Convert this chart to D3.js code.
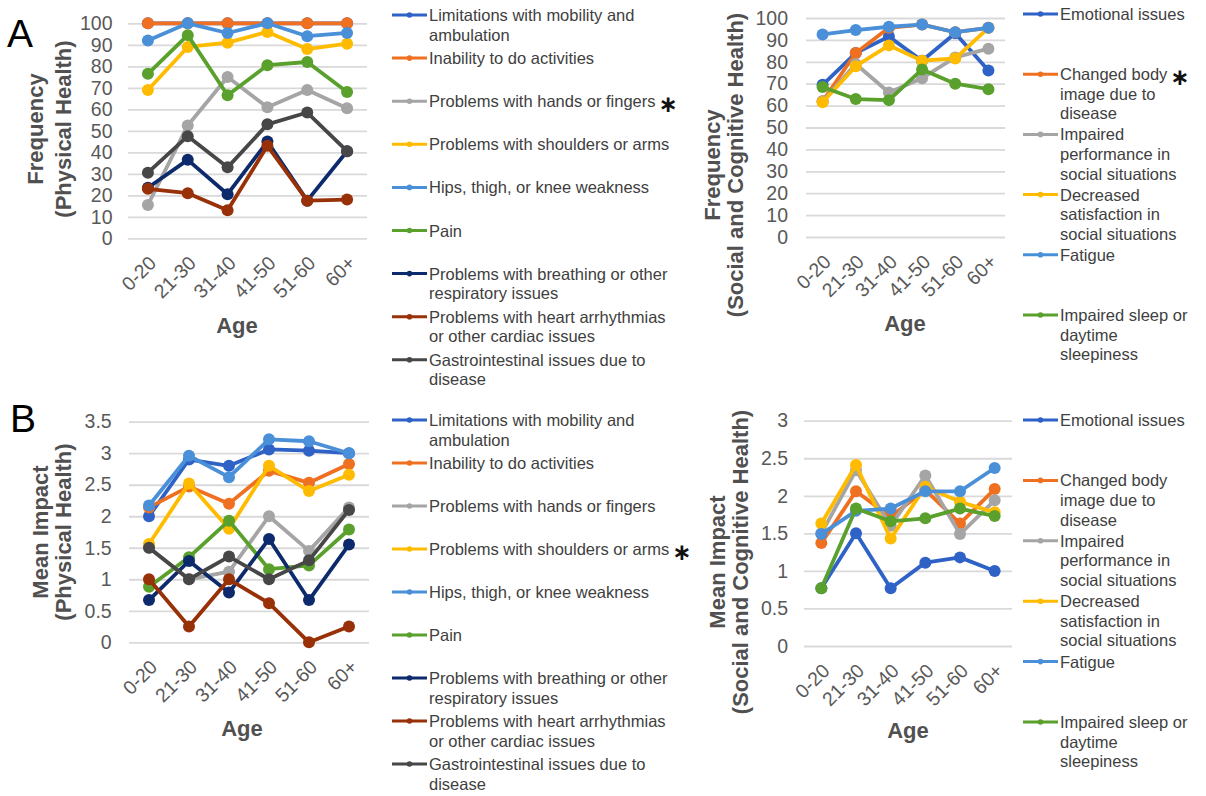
<!DOCTYPE html>
<html>
<head>
<meta charset="utf-8">
<script src="https://d3js.org/d3.v7.min.js"></script>
<style>
	body { margin: 0; background: #fff; }
	svg { display: block; font-family: 'Liberation Sans', Arial, sans-serif; }
</style>
</head>
<body>
<div id="chart"></div>
<script>
// Age groups on every x axis
const ages = ['0-20', '21-30', '31-40', '41-50', '51-60', '60+'];

// Physical health items (legend text, one entry per line)
const physicalLabels = [
	['Limitations with mobility and', 'ambulation'],
	['Inability to do activities'],
	['Problems with hands or fingers'],
	['Problems with shoulders or arms'],
	['Hips, thigh, or knee weakness'],
	['Pain'],
	['Problems with breathing or other', 'respiratory issues'],
	['Problems with heart arrhythmias', 'or other cardiac issues'],
	['Gastrointestinal issues due to', 'disease']
];
const physicalColors = ['#2f62c6', '#f07021', '#a5a5a5', '#ffbb00', '#4a90d9', '#5aa02c', '#0d2a6c', '#983008', '#474747'];

// Social and cognitive health items
const socialLabels = [
	['Emotional issues'],
	['Changed body', 'image due to', 'disease'],
	['Impaired', 'performance in', 'social situations'],
	['Decreased', 'satisfaction in', 'social situations'],
	['Fatigue'],
	['Impaired sleep or', 'daytime', 'sleepiness']
];
const socialColors = ['#2f62c6', '#f07021', '#a5a5a5', '#ffbb00', '#4a90d9', '#5aa02c'];

// A: frequency (physical), one row per item
const freqPhysical = [
	[100, 100, 100, 100, 100, 100],
	[100, 100, 100, 100, 100, 100],
	[15.5, 52.5, 75, 61, 69, 60.5],
	[69, 89, 91, 96, 88, 90.5],
	[92, 100, 95.5, 100, 94, 95.5],
	[76.5, 94.5, 66.5, 80.5, 82, 68],
	[23.5, 36.5, 20.5, 45, 17.5, 40.5],
	[23, 21, 13, 43, 17.5, 18],
	[30.5, 47.5, 33, 53, 58.5, 40.5]
];

// A: frequency (social and cognitive)
const freqSocial = [
	[69.5, 84, 91.5, 80.5, 93, 76],
	[62, 84, 95.5, 97, 93.5, 95.5],
	[62, 79, 66, 72.5, 82, 86],
	[61.5, 78, 87.5, 80.5, 81.5, 95.5],
	[92.5, 94.5, 96, 97, 93.5, 95.5],
	[68.5, 63, 62.5, 76.5, 70, 67.5]
];

// B: mean impact (physical)
const impactPhysical = [
	[2.0, 2.9, 2.8, 3.06, 3.04, 3.0],
	[2.14, 2.47, 2.2, 2.72, 2.53, 2.83],
	[1.5, 1.0, 1.12, 2.0, 1.45, 2.14],
	[1.56, 2.52, 1.8, 2.8, 2.4, 2.66],
	[2.17, 2.96, 2.62, 3.22, 3.19, 3.0],
	[0.88, 1.35, 1.93, 1.16, 1.22, 1.79],
	[0.67, 1.29, 0.79, 1.64, 0.67, 1.55],
	[1.0, 0.25, 1.0, 0.62, 0, 0.25],
	[1.5, 1.0, 1.36, 1.0, 1.3, 2.1]
];

// B: mean impact (social and cognitive)
const impactSocial = [
	[0.77, 1.5, 0.77, 1.11, 1.18, 1.0],
	[1.37, 2.06, 1.72, 2.08, 1.63, 2.09],
	[1.5, 2.34, 1.6, 2.27, 1.49, 1.94],
	[1.63, 2.41, 1.43, 2.12, 1.92, 1.78],
	[1.49, 1.8, 1.83, 2.06, 2.06, 2.37],
	[0.77, 1.83, 1.66, 1.7, 1.83, 1.73]
];

const freqTicks = [0, 10, 20, 30, 40, 50, 60, 70, 80, 90, 100];
const impactPhysicalTicks = [0, 0.5, 1, 1.5, 2, 2.5, 3, 3.5];
const impactSocialTicks = [0, 0.5, 1, 1.5, 2, 2.5, 3];

const svg = d3.select('#chart').append('svg')
	.attr('width', 1206)
	.attr('height', 796);

svg.append('rect').attr('width', 1206).attr('height', 796).attr('fill', '#fff');

const drawPanel = function(p) {
	const x = d3.scalePoint().domain(ages).range([p.x0, p.x1]).padding(0.5);
	const y = d3.scaleLinear().domain([0, d3.max(p.ticks)]).range([p.yBottom, p.yTop]);
	const g = svg.append('g');

	// Gridlines and y tick labels
	const yAxis = d3.axisLeft(y).tickValues(p.ticks).tickSize(-(p.x1 - p.x0)).tickFormat(d3.format('~g'));
	const ya = g.append('g').attr('transform', 'translate(' + p.x0 + ',0)').call(yAxis);
	ya.select('.domain').remove();
	ya.selectAll('line').attr('stroke', '#d9d9d9').attr('stroke-width', 1.8);
	ya.selectAll('text')
		.attr('x', p.tickRight - p.x0)
		.attr('fill', '#595959')
		.style('font-size', '19.5px');

	// Rotated x tick labels
	const xa = g.append('g').attr('transform', 'translate(0,' + p.yBottom + ')')
		.call(d3.axisBottom(x).tickSize(0));
	xa.select('.domain').remove();
	xa.selectAll('text')
		.attr('fill', '#595959')
		.style('font-size', '19.5px')
		.attr('text-anchor', 'end')
		.attr('dy', 0)
		.attr('y', 0)
		.attr('transform', 'translate(9,26) rotate(-45)');

	// Series lines and markers, first series at the back
	const line = d3.line().x((d, i) => x(ages[i])).y(d => y(d));
	p.values.forEach((row, s) => {
		g.append('path')
			.attr('d', line(row))
			.attr('fill', 'none')
			.attr('stroke', p.colors[s])
			.attr('stroke-width', 3.8)
			.attr('stroke-linejoin', 'round');
		g.selectAll(null).data(row).join('circle')
			.attr('cx', (d, i) => x(ages[i]))
			.attr('cy', d => y(d))
			.attr('r', 6)
			.attr('fill', p.colors[s]);
	});

	// Axis titles
	const titleG = g.append('g')
		.attr('fill', '#505050')
		.style('font-size', '22px')
		.style('font-weight', 'bold')
		.attr('text-anchor', 'middle');
	p.yTitle.forEach((t, i) => {
		titleG.append('text')
			.attr('transform', 'translate(' + p.yTitleX[i] + ',' + p.yTitleY + ') rotate(-90)')
			.attr('dominant-baseline', 'central')
			.text(t);
	});
	titleG.append('text')
		.attr('x', p.ageX)
		.attr('y', p.ageY)
		.attr('dominant-baseline', 'central')
		.text('Age');

	// Legend
	const lg = g.append('g').style('font-size', '16.5px');
	p.labels.forEach((lines, s) => {
		const ly = p.legendY + s * p.legendStep;
		lg.append('line')
			.attr('x1', p.legendX).attr('x2', p.legendX + 35)
			.attr('y1', ly).attr('y2', ly)
			.attr('stroke', p.colors[s]).attr('stroke-width', 3);
		lg.append('circle')
			.attr('cx', p.legendX + 17.5).attr('cy', ly).attr('r', 2.8)
			.attr('fill', p.colors[s]);
		const txt = lg.append('text')
			.attr('x', p.legendX + 37)
			.attr('y', ly)
			.attr('dominant-baseline', 'central')
			.attr('fill', '#404040');
		lines.forEach((l, k) => {
			txt.append('tspan')
				.attr('x', p.legendX + 37)
				.attr('dy', k === 0 ? 0 : 19.6)
				.text(l);
		});
		if (s === p.starIndex) {
			const w = txt.select('tspan').node().getComputedTextLength();
			lg.append('text')
				.attr('x', p.legendX + 37 + w + 3)
				.attr('y', ly + 3)
				.attr('dominant-baseline', 'central')
				.attr('fill', '#111')
				.style('font-family', 'DejaVu Sans')
				.style('font-size', '23px')
				.style('font-weight', 'bold')
				.text('\u2217');
		}
	});

	// Panel letter
	if (p.letter) {
		svg.append('text')
			.attr('x', p.letter.x).attr('y', p.letter.y)
			.style('font-size', '39px')
			.attr('fill', '#000')
			.text(p.letter.text);
	}
};

drawPanel({
	values: freqPhysical, colors: physicalColors, labels: physicalLabels, ticks: freqTicks,
	x0: 128, x1: 367, yTop: 23.3, yBottom: 238.3, tickRight: 112.5,
	yTitle: ['Frequency', '(Physical Health)'], yTitleX: [35, 63], yTitleY: 129,
	ageX: 237, ageY: 325,
	legendX: 392, legendY: 15, legendStep: 43.1, starIndex: 2,
	letter: { text: 'A', x: 7, y: 47 }
});

drawPanel({
	values: freqSocial, colors: socialColors, labels: socialLabels, ticks: freqTicks,
	x0: 806, x1: 1005, yTop: 18, yBottom: 237, tickRight: 788,
	yTitle: ['Frequency', '(Social and Cognitive Health)'], yTitleX: [712, 735], yTitleY: 165,
	ageX: 905, ageY: 323,
	legendX: 1023, legendY: 14, legendStep: 60.2, starIndex: 1
});

drawPanel({
	values: impactPhysical, colors: physicalColors, labels: physicalLabels, ticks: impactPhysicalTicks,
	x0: 129, x1: 369, yTop: 421.7, yBottom: 642.3, tickRight: 111.7,
	yTitle: ['Mean Impact', '(Physical Health)'], yTitleX: [40, 63], yTitleY: 532,
	ageX: 242, ageY: 728,
	legendX: 392, legendY: 420, legendStep: 43, starIndex: 3,
	letter: { text: 'B', x: 10, y: 432 }
});

drawPanel({
	values: impactSocial, colors: socialColors, labels: socialLabels, ticks: impactSocialTicks,
	x0: 804, x1: 1012, yTop: 420.7, yBottom: 646, tickRight: 788,
	yTitle: ['Mean Impact', '(Social and Cognitive Health)'], yTitleX: [717, 740], yTitleY: 562,
	ageX: 908, ageY: 730,
	legendX: 1023, legendY: 420, legendStep: 60.4, starIndex: -1
});
</script>
</body>
</html>
